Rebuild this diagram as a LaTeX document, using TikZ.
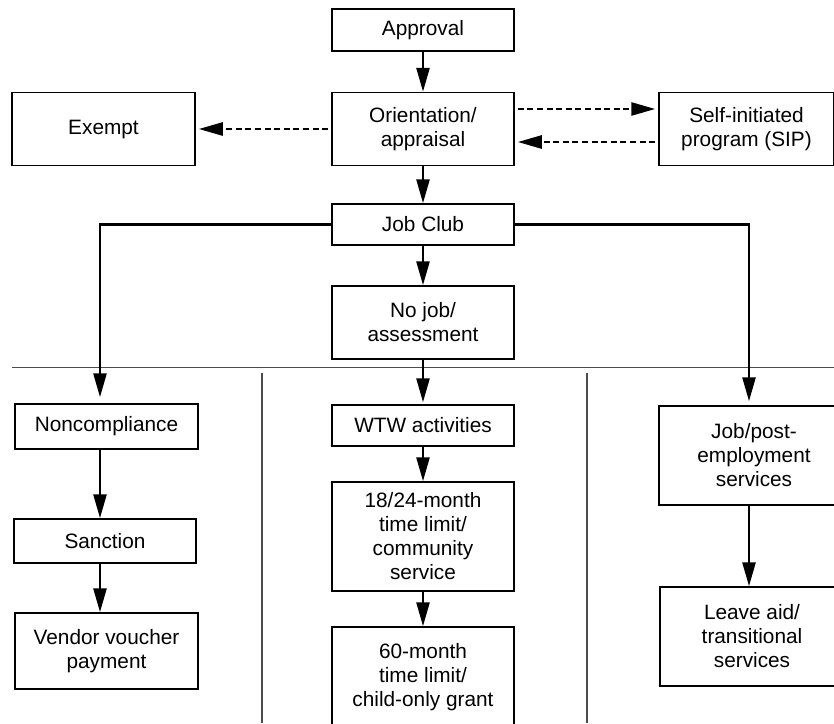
\documentclass[tikz,border=0pt]{standalone}
\usepackage{fontspec}
\setmainfont{Liberation Sans}
\usetikzlibrary{arrows.meta}

\begin{document}
\begin{tikzpicture}[x=0.5pt,y=-0.5pt,
    box/.style={draw,line width=0.75pt,align=center,inner sep=0pt,font=\fontsize{10.4}{12}\selectfont},
    flow/.style={line width=1.3pt,-{Triangle[length=12pt,width=6.5pt]}},
    dashflow/.style={flow,dash pattern=on 3pt off 1.8pt},
    divider/.style={line width=0.6pt,black!70}]

    \useasboundingbox (0,0) rectangle (834,723);
    \clip (0,0) rectangle (834,723);

    % main flow
    % nodes (steps)
    \node[box,minimum width=91pt,minimum height=21pt] (approval) at (423,30) {Approval};
    \node[box,minimum width=91pt,minimum height=36.5pt] (orient) at (423,129) {Orientation/\\appraisal};
    \node[box,minimum width=91.5pt,minimum height=36.5pt] (exempt) at (103.5,129) {Exempt};
    \node[box,minimum width=87.5pt,minimum height=36.5pt] (sip) at (746.5,129) {Self-initiated\\program (SIP)};
    \node[box,minimum width=91pt,minimum height=20.5pt] (jobclub) at (423,224.5) {Job Club};
    \node[box,minimum width=91pt,minimum height=36.5pt] (nojob) at (423,322.5) {No job/\\assessment};

    % paths
    \draw[flow](approval.south) -- (orient.north); % approval -> orientation
    \draw[dashflow,shorten <=1.5pt,shorten >=1.5pt](orient.west) -- (exempt.east); % orientation -> exempt
    \draw[dashflow,shorten <=1.5pt,shorten >=1.5pt]([yshift=10pt]orient.east) -- ([yshift=10pt]sip.west); % orientation -> SIP
    \draw[dashflow,shorten <=1.5pt,shorten >=1.5pt]([yshift=-6.5pt]sip.west) -- ([yshift=-6.5pt]orient.east); % SIP -> orientation
    \draw[flow](orient.south) -- (jobclub.north); % orientation -> job club
    \draw[flow](jobclub.south) -- (nojob.north); % job club -> no job

    % dividers
    \draw[divider](12,367.5) -- (834,367.5); % straight line
    \draw[divider](262,373) -- (262,723);
    \draw[divider](587,373) -- (587,723);

    % lower columns
    % nodes
    \node[box,minimum width=91.5pt,minimum height=22.5pt] (noncomp) at (106.5,426.5) {Noncompliance};
    \node[box,minimum width=91pt,minimum height=22pt] (sanction) at (105,541) {Sanction};
    \node[box,minimum width=91.5pt,minimum height=38pt] (vendor) at (106.5,651) {Vendor voucher\\payment};

    \node[box,minimum width=91pt,minimum height=20.5pt] (wtw) at (423,425.5) {WTW activities};
    \node[box,minimum width=91pt,minimum height=54.5pt] (month18) at (423,536.5) {18/24-month\\time limit/\\community\\service};
    \node[box,minimum width=91pt,minimum height=50pt] (month60) at (423,677) {60-month\\time limit/\\child-only grant};

    \node[box,minimum width=95pt,minimum height=49.5pt] (jobpost) at (754,455.5) {Job/post-\\employment\\services};
    \node[box,minimum width=92pt,minimum height=49.5pt] (leave) at (752,636.5) {Leave aid/\\transitional\\services};

    % paths
    \coordinate (leftbend) at (100,224.5);
    \coordinate (rightbend) at (749,224.5);
    \draw[flow,shorten >=3pt](jobclub.west) -- (leftbend) -- (leftbend |- noncomp.north); % job club -> noncompliance
    \draw[flow,shorten >=2pt](jobclub.east) -- (rightbend) -- (rightbend |- jobpost.north); % job club -> job/post
    \draw[flow](noncomp.south -| leftbend) -- (sanction.north -| leftbend); % noncompliance -> sanction
    \draw[flow](sanction.south -| leftbend) -- (vendor.north -| leftbend); % sanction -> vendor
    \draw[flow,shorten >=1pt](nojob.south) -- (wtw.north); % no job -> WTW
    \draw[flow](wtw.south) -- (month18.north); % WTW -> 18/24
    \draw[flow](month18.south) -- (month60.north); % 18/24 -> 60
    \draw[flow](jobpost.south -| rightbend) -- (leave.north -| rightbend); % job/post -> leave aid

\end{tikzpicture}
\end{document}
